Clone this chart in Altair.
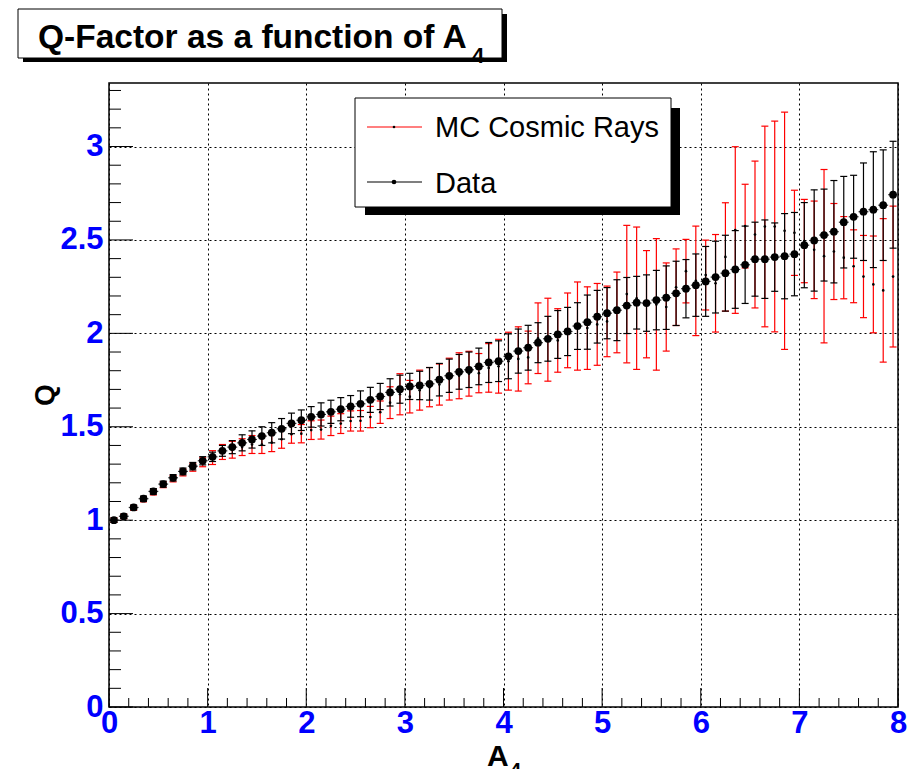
import altair as alt
import pandas as pd

# bin centres of A4 (80 bins of width 0.1 between 0 and 8)
a4 = [round(0.05 + 0.1 * k, 2) for k in range(80)]
half_bin = 0.05

data_q = [1.000, 1.021, 1.068, 1.115, 1.154, 1.193, 1.227, 1.261, 1.289, 1.318,
          1.339, 1.371, 1.391, 1.414, 1.432, 1.450, 1.468, 1.489, 1.518, 1.535,
          1.553, 1.566, 1.580, 1.594, 1.609, 1.623, 1.644, 1.662, 1.684, 1.701,
          1.716, 1.721, 1.730, 1.752, 1.773, 1.794, 1.805, 1.823, 1.844, 1.851,
          1.877, 1.905, 1.923, 1.950, 1.971, 1.994, 2.010, 2.039, 2.060, 2.089,
          2.108, 2.124, 2.149, 2.164, 2.162, 2.178, 2.191, 2.214, 2.239, 2.258,
          2.278, 2.301, 2.322, 2.342, 2.367, 2.397, 2.397, 2.408, 2.413, 2.424,
          2.472, 2.497, 2.526, 2.544, 2.595, 2.624, 2.651, 2.662, 2.686, 2.742]
data_err = [0.012, 0.012, 0.013, 0.014, 0.015, 0.016, 0.017, 0.018, 0.020, 0.022,
            0.025, 0.029, 0.035, 0.043, 0.046, 0.050, 0.054, 0.055, 0.055, 0.055,
            0.055, 0.062, 0.062, 0.062, 0.058, 0.069, 0.067, 0.070, 0.073, 0.075,
            0.070, 0.076, 0.087, 0.087, 0.089, 0.093, 0.095, 0.098, 0.107, 0.109,
            0.120, 0.118, 0.120, 0.107, 0.120, 0.128, 0.129, 0.125, 0.145, 0.141,
            0.137, 0.163, 0.150, 0.141, 0.151, 0.159, 0.170, 0.172, 0.156, 0.167,
            0.187, 0.192, 0.203, 0.208, 0.207, 0.198, 0.210, 0.183, 0.228, 0.223,
            0.228, 0.271, 0.246, 0.274, 0.245, 0.222, 0.261, 0.310, 0.296, 0.286]
mc_q = [1.000, 1.020, 1.066, 1.112, 1.150, 1.190, 1.222, 1.255, 1.282, 1.310,
        1.335, 1.365, 1.377, 1.391, 1.405, 1.405, 1.415, 1.433, 1.460, 1.463,
        1.482, 1.485, 1.505, 1.517, 1.531, 1.532, 1.552, 1.578, 1.629, 1.674,
        1.661, 1.696, 1.712, 1.726, 1.755, 1.773, 1.784, 1.787, 1.815, 1.824,
        1.851, 1.863, 1.871, 1.974, 1.966, 1.962, 2.016, 2.039, 2.028, 2.048,
        2.064, 2.112, 2.210, 2.188, 2.156, 2.155, 2.141, 2.247, 2.333, 2.281,
        2.312, 2.268, 2.409, 2.553, 2.574, 2.529, 2.572, 2.572, 2.549, 2.538,
        2.494, 2.447, 2.413, 2.438, 2.405, 2.359, 2.304, 2.262, 2.230, 2.304]
mc_err = [0.012, 0.012, 0.013, 0.014, 0.015, 0.016, 0.017, 0.018, 0.020, 0.024,
          0.037, 0.040, 0.045, 0.045, 0.048, 0.048, 0.048, 0.048, 0.048, 0.049,
          0.050, 0.051, 0.052, 0.053, 0.054, 0.055, 0.057, 0.060, 0.085, 0.110,
          0.087, 0.107, 0.105, 0.110, 0.112, 0.123, 0.120, 0.105, 0.130, 0.144,
          0.155, 0.172, 0.141, 0.189, 0.222, 0.170, 0.200, 0.236, 0.221, 0.219,
          0.189, 0.216, 0.368, 0.381, 0.287, 0.352, 0.236, 0.205, 0.170, 0.293,
          0.187, 0.261, 0.290, 0.446, 0.224, 0.393, 0.537, 0.564, 0.635, 0.228,
          0.223, 0.261, 0.464, 0.257, 0.220, 0.195, 0.220, 0.259, 0.384, 0.377]

x_labels = [0, 1, 2, 3, 4, 5, 6, 7, 8]
y_labels = [0, 0.5, 1, 1.5, 2, 2.5, 3]
x_minor = [round(0.2 * i, 1) for i in range(1, 40) if i % 5 != 0]
y_minor = [round(0.1 * i, 1) for i in range(1, 34) if i % 5 != 0]

title_text = "Q-Factor as a function of A"
title_sub = "4"
legend_labels = ["MC Cosmic Rays", "Data"]
x_title, x_title_sub = "A", "4"
y_title = "Q"

FONT = "Liberation Sans"
W, H = 789, 624

df = pd.DataFrame({"a4": a4, "q": data_q, "err": data_err, "mc": mc_q, "mc_err": mc_err})

xs = alt.Scale(domain=[0, 8], nice=False, zero=False)
ys = alt.Scale(domain=[0, 3.34], nice=False, zero=False)

axis_common = dict(labelFont=FONT, labelFontWeight="bold", labelColor="#0000ff",
                   labelFontSize=31, ticks=False, domain=False, grid=True,
                   gridDash=[2, 3], gridColor="black", gridOpacity=1, gridWidth=1,
                   title=None, format="~g")

base = alt.Chart(df).transform_calculate(
    lo="datum.q - datum.err", hi="datum.q + datum.err",
    mlo="datum.mc - datum.mc_err", mhi="datum.mc + datum.mc_err",
    xlo=f"datum.a4 - {half_bin}", xhi=f"datum.a4 + {half_bin}")

X = alt.X("a4:Q", scale=xs, axis=alt.Axis(values=x_labels, labelFlush=False,
                                           labelPadding=1, **axis_common))
Y = alt.Y("q:Q", scale=ys, axis=alt.Axis(values=y_labels,
                                          labelPadding=6, **axis_common))

RED = "#ff0000"
mc_rule = base.mark_rule(color=RED, strokeWidth=1.2).encode(
    x=alt.X("a4:Q", scale=xs), y=alt.Y("mlo:Q", scale=ys), y2="mhi:Q")
mc_cap_lo = base.mark_tick(orient="horizontal", color=RED, size=7, thickness=1.2, opacity=1).encode(
    x="a4:Q", y="mlo:Q")
mc_cap_hi = base.mark_tick(orient="horizontal", color=RED, size=7, thickness=1.2, opacity=1).encode(
    x="a4:Q", y="mhi:Q")
mc_dot = base.mark_circle(color="black", size=7, opacity=1).encode(x="a4:Q", y="mc:Q")

d_xbar = base.mark_rule(color="#333333", strokeWidth=1.2).encode(
    x="xlo:Q", x2="xhi:Q", y="q:Q")
d_rule = base.mark_rule(color="black", strokeWidth=1.2).encode(
    x="a4:Q", y="lo:Q", y2="hi:Q")
d_cap_lo = base.mark_tick(orient="horizontal", color="black", size=7, thickness=1.2, opacity=1).encode(
    x="a4:Q", y="lo:Q")
d_cap_hi = base.mark_tick(orient="horizontal", color="black", size=7, thickness=1.2, opacity=1).encode(
    x="a4:Q", y="hi:Q")
d_dot = base.mark_circle(color="black", size=60, opacity=1).encode(x=X, y=Y)

# inward ticks (ROOT style)
ytick_major = alt.Chart(pd.DataFrame({"v": y_labels})).mark_rule(color="black", strokeWidth=1).encode(
    y=alt.Y("v:Q", scale=ys), x=alt.value(0), x2=alt.value(24))
ytick_minor = alt.Chart(pd.DataFrame({"v": y_minor})).mark_rule(color="black", strokeWidth=1).encode(
    y=alt.Y("v:Q", scale=ys), x=alt.value(0), x2=alt.value(12))
xtick_major = alt.Chart(pd.DataFrame({"v": x_labels})).mark_rule(color="black", strokeWidth=1).encode(
    x=alt.X("v:Q", scale=xs), y=alt.value(H), y2=alt.value(H - 19))
xtick_minor = alt.Chart(pd.DataFrame({"v": x_minor})).mark_rule(color="black", strokeWidth=1).encode(
    x=alt.X("v:Q", scale=xs), y=alt.value(H), y2=alt.value(H - 9))

one = alt.Data(values=[{"k": 1}])

def box(x1, y1, x2, y2, fill, stroke=None):
    kw = dict(fill=fill)
    if stroke:
        kw.update(stroke=stroke, strokeWidth=1)
    return alt.Chart(one).mark_rect(**kw).encode(
        x=alt.value(x1), x2=alt.value(x2), y=alt.value(y1), y2=alt.value(y2))

def label(txt, x, y, size, weight="normal", align="left", baseline="alphabetic", angle=0):
    kw = dict(font=FONT, fontSize=size, fontWeight=weight, align=align,
              baseline=baseline, color="black")
    if angle:
        kw["angle"] = angle
    return alt.Chart(alt.Data(values=[{"t": txt}])).mark_text(**kw).encode(
        x=alt.value(x), y=alt.value(y), text="t:N")

title_shadow = box(-86, -69, 398, -21, "black")
title_box = box(-91, -74, 393, -25, "white", "black")
title_main = label(title_text, -71, -35, 33.5, "bold")
title_s = label(title_sub, 363, -20, 22, "bold")

leg_shadow = box(256, 25, 571, 132, "black")
leg_box = box(246, 15, 562, 124, "white", "black")
leg_line1 = alt.Chart(one).mark_rule(color=RED, strokeWidth=1.2).encode(
    x=alt.value(258), x2=alt.value(313), y=alt.value(44))
leg_dot1 = alt.Chart(one).mark_circle(color="black", size=7, opacity=1).encode(
    x=alt.value(285), y=alt.value(44))
leg_text1 = label(legend_labels[0], 326, 54, 29)
leg_line2 = alt.Chart(one).mark_rule(color="black", strokeWidth=1.2).encode(
    x=alt.value(258), x2=alt.value(313), y=alt.value(99))
leg_dot2 = alt.Chart(one).mark_circle(color="black", size=22, opacity=1).encode(
    x=alt.value(285), y=alt.value(99))
leg_text2 = label(legend_labels[1], 326, 110, 29)

ytitle = label(y_title, -63, 312, 28, "bold", align="center", baseline="middle", angle=270)
xtitle = label(x_title, 378, 683, 30, "bold")
xtitle_s = label(x_title_sub, 401, 694, 20, "bold")

chart = alt.layer(
    d_dot.mark_circle(opacity=0),
    mc_rule, mc_cap_lo, mc_cap_hi, mc_dot,
    d_xbar, d_rule, d_cap_lo, d_cap_hi, d_dot,
    ytick_major, ytick_minor, xtick_major, xtick_minor,
    title_shadow, title_box, title_main, title_s,
    leg_shadow, leg_box, leg_line1, leg_dot1, leg_text1,
    leg_line2, leg_dot2, leg_text2,
    ytitle, xtitle, xtitle_s,
).properties(
    width=W, height=H,
    autosize=alt.AutoSizeParams(type="none"),
    padding={"left": 109, "top": 83, "right": 21, "bottom": 62},
    background="white",
).configure_view(stroke="black", strokeWidth=1.5)

chart.save("out.html", embed_options={"renderer": "svg", "actions": False})
